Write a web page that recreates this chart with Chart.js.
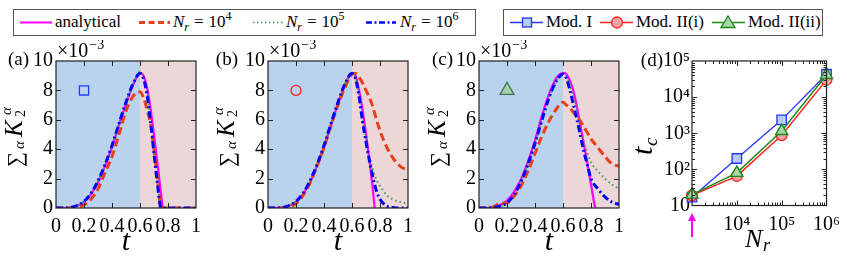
<!DOCTYPE html>
<html><head><meta charset="utf-8">
<script src="https://cdn.jsdelivr.net/npm/chart.js@4"></script>
<style>
body{margin:0;background:#fff;}
#wrap{position:relative;width:847px;height:261px;overflow:hidden;font-family:"Liberation Serif","Times New Roman","DejaVu Serif",serif;color:#000;}
canvas{position:absolute;}
.box{position:absolute;top:9px;height:27px;border:1px solid #555;box-sizing:border-box;}
.lt{position:absolute;top:13px;line-height:17px;font-size:17px;white-space:nowrap;}
.lt i{font-style:italic;}
.sb{position:relative;top:4px;font-size:12px;font-style:italic;}
.sp{position:relative;top:-7px;font-size:12px;}
.eq{margin:0 5px;}
svg{position:absolute;left:0;top:0;}
</style></head>
<body>
<div id="wrap">
  <div class="box" style="left:13px;width:463px"></div>
  <div class="box" style="left:503px;width:320px"></div>
  <svg width="847" height="40">
    <line x1="20" y1="22.5" x2="52" y2="22.5" stroke="#ff00ff" stroke-width="2"/>
    <line x1="139" y1="22.5" x2="170" y2="22.5" stroke="#e8401a" stroke-width="3" stroke-dasharray="6 3.5"/>
    <line x1="253" y1="22.5" x2="283" y2="22.5" stroke="#3f9a55" stroke-width="1.5" stroke-dasharray="1.5 2.5"/>
    <line x1="366" y1="22.5" x2="396" y2="22.5" stroke="#0000ff" stroke-width="2.5" stroke-dasharray="6 2.5 2 2.5"/>
    <line x1="510" y1="22.5" x2="543" y2="22.5" stroke="#2436ff" stroke-width="1.3"/>
    <rect x="522.5" y="18" width="9" height="9" fill="#b5cdf0" stroke="#2436ff" stroke-width="1.3"/>
    <line x1="600" y1="22.5" x2="633" y2="22.5" stroke="#ff2020" stroke-width="1.3"/>
    <circle cx="617" cy="22.5" r="5.5" fill="#f7a0a8" stroke="#ff2020" stroke-width="1.3"/>
    <line x1="712" y1="22.5" x2="745" y2="22.5" stroke="#1a8a1a" stroke-width="1.3"/>
    <polygon points="728,16 735,27.5 721,27.5" fill="#a8d4a8" stroke="#1a8a1a" stroke-width="1.3"/>
  </svg>
  <span class="lt" style="left:55px">analytical</span>
  <span class="lt" style="left:173px"><i>N</i><span class="sb">r</span><span class="eq">=</span>10<span class="sp">4</span></span>
  <span class="lt" style="left:286px"><i>N</i><span class="sb">r</span><span class="eq">=</span>10<span class="sp">5</span></span>
  <span class="lt" style="left:400px"><i>N</i><span class="sb">r</span><span class="eq">=</span>10<span class="sp">6</span></span>
  <span class="lt" style="left:546px">Mod. I</span>
  <span class="lt" style="left:636px">Mod. II(i)</span>
  <span class="lt" style="left:748px">Mod. II(ii)</span>
  <canvas id="pa" width="210" height="221" style="left:0px;top:40px"></canvas>
  <canvas id="pb" width="210" height="221" style="left:212px;top:40px"></canvas>
  <canvas id="pc" width="210" height="221" style="left:423px;top:40px"></canvas>
  <canvas id="pd" width="227" height="221" style="left:620px;top:40px"></canvas>
</div>
<script>
// ---------- data ----------
const T = [0,0.05,0.1,0.15,0.2,0.25,0.3,0.35,0.4,0.45,0.5,0.55,0.6,0.625,0.65,0.675,0.7,0.725,0.75,0.775,0.8,0.85,0.9,0.95,1.0];
const T_AN_AB = [0,0.05,0.1,0.15,0.2,0.25,0.3,0.35,0.4,0.45,0.5,0.55,0.6,0.625,0.65,0.675,0.7,0.725,0.75,0.762];
const T_AN_C  = [0,0.05,0.1,0.15,0.2,0.25,0.3,0.35,0.4,0.45,0.5,0.55,0.6,0.625,0.65,0.675,0.7,0.725,0.75,0.775,0.8,0.825,0.832];

// panel (a) Mod. I
const AN_A  = [0,0,0.03,0.15,0.42,0.95,1.75,2.85,4.15,5.65,7.1,8.35,9.2,9.0,8.2,6.8,4.95,3.0,1.0,0];
const N4_A  = [0,0,0,0.05,0.2,0.6,1.3,2.4,3.5,5.0,6.6,7.6,7.9,7.5,6.7,5.7,4.0,2.0,0.1,0,0,0,0,0,0];
const N5_A  = [0,0,0.03,0.16,0.44,0.98,1.82,2.92,4.2,5.7,7.15,8.45,9.3,8.95,7.95,6.1,3.9,1.75,0.05,0,0,0,0,0,0];
const N6_A  = [0,0,0.03,0.17,0.45,1.0,1.85,2.95,4.25,5.75,7.2,8.45,9.15,8.8,7.7,5.9,3.7,1.6,0,0,0,0,0,0,0];
// panel (b) Mod. II(i)
const AN_B  = [0,0,0.03,0.15,0.42,0.95,1.75,2.85,4.15,5.65,7.1,8.35,9.2,9.0,8.05,6.7,5.05,3.2,1.15,0];
const N4_B  = [0,0,0,0.05,0.3,0.85,1.7,2.85,4.1,5.6,7.0,8.2,9.1,9.15,8.9,8.5,8.0,7.5,6.85,6.0,5.25,4.1,3.3,2.8,2.6];
const N5_B  = [0,0,0.03,0.16,0.44,0.98,1.82,2.92,4.2,5.7,7.15,8.45,9.2,8.9,7.8,6.2,4.8,3.5,2.6,1.9,1.5,0.85,0.55,0.4,0.3];
const N6_B  = [0,0,0.03,0.17,0.45,1.0,1.85,2.95,4.25,5.75,7.2,8.45,9.15,8.8,7.6,5.9,4.5,3.2,2.05,1.15,0.6,0.12,0.02,0,0];
// panel (c) Mod. II(ii)
const AN_C  = [0,0,0.05,0.2,0.5,1.1,1.95,3.15,4.6,6.3,7.75,8.8,9.2,9.1,8.65,7.95,6.85,5.6,4.3,3.0,1.6,0.25,0];
const N4_C  = [0,0,0.08,0.3,0.35,0.8,1.5,2.5,3.7,4.9,5.9,6.7,7.2,7.0,6.8,6.5,6.2,5.9,5.5,5.1,4.7,4.1,3.5,3.0,2.85];
const N5_C  = [0,0,0.03,0.12,0.35,0.9,1.8,3.0,4.4,6.0,7.5,8.6,9.15,9.0,8.4,7.6,6.6,5.4,4.4,3.7,3.1,2.5,2.0,1.6,1.3];
const N6_C  = [0,0,0.03,0.12,0.35,0.9,1.8,3.0,4.4,6.0,7.5,8.6,9.1,8.8,8.0,7.0,6.0,4.9,3.8,2.9,2.0,1.3,0.75,0.4,0.25];
// inset markers
const MARK_T = 0.2, MARK_Y = 8;
// panel (d)
const NR       = [1e3, 1e4, 1e5, 1e6];
const MOD_I    = [17, 200, 2350, 43000];
const MOD_IIi  = [19, 65, 880, 30000];
const MOD_IIii = [20, 80, 1150, 41000];
// ticks
const X_TICKS = [0,0.2,0.4,0.6,0.8,1];
const X_LABELS = ['0','0.2','0.4','0.6','0.8','1'];
const Y_TICKS = [0,2,4,6,8,10];
const Y_LABELS = ['0','2','4','6','8','10'];
const D_X_TICKS = [1e4,1e5,1e6];
const D_X_LABELS = ['10\u2074','10\u2075','10\u2076'];
const D_Y_TICKS = [10,100,1e3,1e4,1e5];
const D_Y_LABELS = ['10','10\u00b2','10\u00b3','10\u2074','10\u2075'];
const SPLIT_T = 0.6;

// ---------- helpers ----------
const FONT = '"Liberation Serif", "Times New Roman", "DejaVu Serif", serif';
Chart.defaults.font.family = FONT;
Chart.defaults.color = '#000';
const pts = (xs, ys) => xs.map((x, i) => ({x, y: ys[i]}));

const bgPlugin = {
  id: 'bg',
  beforeDatasetsDraw(chart, args, o) {
    if (!o || !o.on) return;
    const {ctx, chartArea: a} = chart;
    const px = chart.scales.x.getPixelForValue(o.split);
    ctx.save();
    ctx.fillStyle = '#b9d3ee'; ctx.fillRect(a.left, a.top, px - a.left, a.bottom - a.top);
    ctx.fillStyle = '#ebd7d7'; ctx.fillRect(px, a.top, a.right - px, a.bottom - a.top);
    ctx.restore();
  }
};
const framePlugin = {
  id: 'frame',
  afterDatasetsDraw(chart, args, o) {
    const {ctx, chartArea: a} = chart;
    const xs = chart.scales.x, ys = chart.scales.y;
    ctx.save();
    ctx.strokeStyle = '#222'; ctx.lineWidth = 1;
    ctx.beginPath();
    const vx = (vals, len) => vals.forEach(v => {
      const p = Math.round(xs.getPixelForValue(v)) + 0.5;
      if (p <= a.left + 1 || p >= a.right - 1) return;
      ctx.moveTo(p, a.bottom); ctx.lineTo(p, a.bottom - len);
      ctx.moveTo(p, a.top); ctx.lineTo(p, a.top + len);
    });
    const vy = (vals, len) => vals.forEach(v => {
      const p = Math.round(ys.getPixelForValue(v)) + 0.5;
      if (p <= a.top + 1 || p >= a.bottom - 1) return;
      ctx.moveTo(a.left, p); ctx.lineTo(a.left + len, p);
      ctx.moveTo(a.right, p); ctx.lineTo(a.right - len, p);
    });
    vx(o.xMajor, 5); vy(o.yMajor, 5);
    if (o.xMinor) vx(o.xMinor, 3);
    if (o.yMinor) vy(o.yMinor, 3);
    ctx.stroke();
    ctx.lineWidth = 1.2;
    ctx.strokeRect(a.left, a.top, a.right - a.left, a.bottom - a.top);
    ctx.restore();
  }
};
const textPlugin = {
  id: 'texts',
  afterDraw(chart, args, o) {
    const ctx = chart.ctx;
    (o.items || []).forEach(it => {
      ctx.save();
      ctx.translate(it.x, it.y);
      if (it.rot) ctx.rotate(it.rot);
      ctx.fillStyle = '#000';
      ctx.textBaseline = 'alphabetic';
      ctx.textAlign = it.align || 'left';
      let cx = 0;
      it.parts.forEach(p => {
        ctx.font = p.f;
        const x = (p.x === undefined) ? cx + (p.gap || 0) : p.x;
        ctx.fillText(p.t, x, p.y || 0);
        cx = x + ctx.measureText(p.t).width;
      });
      ctx.restore();
    });
    if (o.arrow) {
      const xs = chart.scales.x;
      const px = xs.getPixelForValue(o.arrow.value);
      ctx.save();
      ctx.strokeStyle = '#ff00ff'; ctx.fillStyle = '#ff00ff'; ctx.lineWidth = 2;
      ctx.beginPath(); ctx.moveTo(px, o.arrow.y1); ctx.lineTo(px, o.arrow.y0 + 6); ctx.stroke();
      ctx.beginPath(); ctx.moveTo(px, o.arrow.y0); ctx.lineTo(px - 4, o.arrow.y0 + 8); ctx.lineTo(px + 4, o.arrow.y0 + 8); ctx.closePath(); ctx.fill();
      ctx.restore();
    }
  }
};

const TICK_FONT = {family: FONT, size: 20};

function yTitleItems(lbl, lblX) {
  return [
    {x: lblX, y: 25, align: 'right', parts: [{t: lbl, f: '19px ' + FONT}]},
    {x: 57, y: 17, parts: [{t: '\u00d710', f: '20px ' + FONT}, {t: '\u22123', f: '14px ' + FONT, gap: 1, y: -8}]},
    {x: 22, y: 127, rot: -Math.PI / 2, parts: [
      {t: '\u2211', f: '21px ' + FONT, x: 0, y: 0},
      {t: '\u03b1', f: 'italic 15px ' + FONT, x: 18, y: 2},
      {t: 'K', f: 'italic 25px ' + FONT, x: 30, y: 0},
      {t: '\u03b1', f: 'italic 15px ' + FONT, x: 52, y: -11},
      {t: '2', f: '14px ' + FONT, x: 50, y: 3}
    ]},
    {x: 126, y: 210, align: 'center', parts: [{t: 't', f: 'italic 30px ' + FONT, x: 0}]}
  ];
}

function linePanel(id, an_t, an, n4, n5, n6, marker, lbl, lblX) {
  new Chart(document.getElementById(id), {
    type: 'line',
    data: {datasets: [
      Object.assign({type: 'scatter', data: [{x: MARK_T, y: MARK_Y}], order: 0, borderWidth: 1.3, clip: false}, marker),
      {data: pts(T, n6), borderColor: '#0000ff', borderWidth: 3, borderDash: [7, 3, 2, 3], order: 1},
      {data: pts(T, n4), borderColor: '#e8401a', borderWidth: 3, borderDash: [8, 4], order: 2},
      {data: pts(T, n5), borderColor: '#3f9a55', borderWidth: 2, borderDash: [1.5, 3], order: 3},
      {data: pts(an_t, an), borderColor: '#ff00ff', borderWidth: 2.2, order: 4}
    ]},
    options: {
      responsive: false, animation: false, devicePixelRatio: 1,
      layout: {padding: {left: 0, right: 14, top: 21, bottom: 0}},
      elements: {point: {radius: 0}, line: {cubicInterpolationMode: 'monotone', fill: false}},
      plugins: {
        legend: {display: false}, tooltip: {enabled: false},
        bg: {on: true, split: SPLIT_T},
        frame: {xMajor: X_TICKS, yMajor: Y_TICKS},
        texts: {items: yTitleItems(lbl, lblX)}
      },
      scales: {
        x: {type: 'linear', min: 0, max: 1,
            afterFit: s => { s.height = 53; },
            afterBuildTicks: s => { s.ticks = X_TICKS.map(v => ({value: v})); },
            ticks: {callback: (v, i) => X_LABELS[i], autoSkip: false, maxRotation: 0, padding: 7, font: TICK_FONT, color: '#000'},
            grid: {display: false, drawTicks: false}, border: {display: false}},
        y: {type: 'linear', min: 0, max: 10,
            afterFit: s => { s.width = 56; },
            afterBuildTicks: s => { s.ticks = Y_TICKS.map(v => ({value: v})); },
            ticks: {callback: (v, i) => Y_LABELS[i], autoSkip: false, padding: 3, font: TICK_FONT, color: '#000'},
            grid: {display: false, drawTicks: false}, border: {display: false}}
      }
    },
    plugins: [bgPlugin, framePlugin, textPlugin]
  });
}

linePanel('pa', T_AN_AB, AN_A, N4_A, N5_A, N6_A,
  {pointStyle: 'rect', pointRadius: 6.5, pointBorderColor: '#1f3fff', pointBackgroundColor: 'rgba(0,0,0,0)', borderColor: '#1f3fff', backgroundColor: 'rgba(0,0,0,0)'}, '(a)', 29);
linePanel('pb', T_AN_AB, AN_B, N4_B, N5_B, N6_B,
  {pointStyle: 'circle', pointRadius: 5, pointBorderColor: '#ff2020', pointBackgroundColor: 'rgba(0,0,0,0)', borderColor: '#ff2020', backgroundColor: 'rgba(0,0,0,0)'}, '(b)', 26);
linePanel('pc', T_AN_C, AN_C, N4_C, N5_C, N6_C,
  {pointStyle: 'triangle', pointRadius: 8, pointBorderColor: '#3a7a50', pointBackgroundColor: '#a8d0b0', borderColor: '#3a7a50', backgroundColor: '#a8d0b0'}, '(c)', 30);

// minor tick positions for log axes
const decMinor = (lo, hi) => { const r = []; for (let e = lo; e < hi; e++) for (let k = 2; k <= 9; k++) r.push(k * Math.pow(10, e)); return r; };

new Chart(document.getElementById('pd'), {
  type: 'line',
  data: {datasets: [
    {data: pts(NR, MOD_IIii), borderColor: '#1a8a1a', borderWidth: 1.5, pointStyle: 'triangle', pointRadius: 7, pointBackgroundColor: '#a8d4a8', pointBorderColor: '#1a8a1a', pointBorderWidth: 1.4, order: 0, clip: false},
    {data: pts(NR, MOD_IIi), borderColor: '#ff2020', borderWidth: 1.5, pointStyle: 'circle', pointRadius: 5.3, pointBackgroundColor: '#f7a0a8', pointBorderColor: '#ff2020', pointBorderWidth: 1.3, order: 1, clip: false},
    {data: pts(NR, MOD_I), borderColor: '#2436ff', borderWidth: 1.3, pointStyle: 'rect', pointRadius: 6.7, pointBackgroundColor: '#b5cdf0', pointBorderColor: '#2436ff', pointBorderWidth: 1.3, order: 2, clip: false}
  ]},
  options: {
    responsive: false, animation: false, devicePixelRatio: 1,
    layout: {padding: {left: 0, right: 20, top: 21, bottom: 0}},
    elements: {line: {tension: 0, fill: false}},
    plugins: {
      legend: {display: false}, tooltip: {enabled: false},
      bg: {on: false},
      frame: {xMajor: D_X_TICKS, yMajor: D_Y_TICKS, xMinor: decMinor(3, 6), yMinor: decMinor(1, 5)},
      texts: {
        items: [
          {x: 43, y: 26, align: 'right', parts: [{t: '(d)', f: '19px ' + FONT, x: 0}]},
          {x: 32, y: 115, rot: -Math.PI / 2, parts: [
            {t: 't', f: 'italic 30px ' + FONT, x: 0, y: 0},
            {t: 'c', f: 'italic 19px ' + FONT, x: 9, y: 5}
          ]},
          {x: 125, y: 207, parts: [
            {t: 'N', f: 'italic 26px ' + FONT, x: 0, y: 0},
            {t: 'r', f: 'italic 18px ' + FONT, x: 18, y: 4}
          ]}
        ],
        arrow: {value: 1e3, y0: 173, y1: 197}
      }
    },
    scales: {
      x: {type: 'logarithmic', min: 1e3, max: 1e6,
          afterFit: s => { s.height = 55.5; },
          afterBuildTicks: s => { s.ticks = D_X_TICKS.map(v => ({value: v})); },
          ticks: {callback: (v, i) => D_X_LABELS[i], autoSkip: false, maxRotation: 0, padding: 7, font: TICK_FONT, color: '#000'},
          grid: {display: false, drawTicks: false}, border: {display: false}},
      y: {type: 'logarithmic', min: 10, max: 1e5,
          afterFit: s => { s.width = 72; },
          afterBuildTicks: s => { s.ticks = D_Y_TICKS.map(v => ({value: v})); },
          ticks: {callback: (v, i) => D_Y_LABELS[i], autoSkip: false, padding: 2, font: TICK_FONT, color: '#000'},
          grid: {display: false, drawTicks: false}, border: {display: false}}
    }
  },
  plugins: [bgPlugin, framePlugin, textPlugin]
});
</script>
</body></html>
